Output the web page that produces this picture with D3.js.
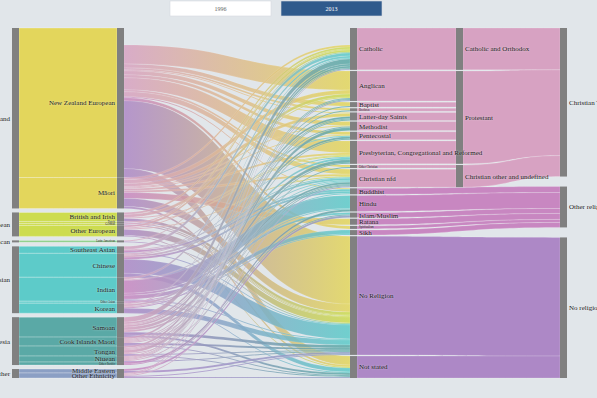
<!DOCTYPE html>
<html>
<head>
<meta charset="utf-8">
<script src="https://cdn.jsdelivr.net/npm/d3@7"></script>
<style>
  html, body { margin: 0; padding: 0; background: #e1e6ea; }
  body { width: 597px; height: 398px; overflow: hidden; }
  text { font-family: "Liberation Serif", "DejaVu Serif", serif; }
  .lbl { fill: #222; text-shadow: 0 0 2px rgba(255,255,255,0.7); }
</style>
</head>
<body>
<div id="chart"></div>
<script>
// level 1 ethnic groups (left column)
const ethnicGroups = ["New Zealand", "European", "Latin American", "Asian", "Polynesia", "Other"];
const groupColors = ["#e3d65c", "#cddc4f", "#8fd08a", "#5dcbc9", "#5aa9a6", "#8b9fc4"];

// level 2 ethnic groups
const ethnicities = ["New Zealand European", "Māori", "British and Irish", "Dutch", "German",
  "Other European", "Latin American", "Southeast Asian", "Chinese", "Indian", "Other Asian",
  "Korean", "Samoan", "Cook Islands Maori", "Tongan", "Niuean", "Other Pacific",
  "Middle Eastern", "Other Ethnicity"];
const ethnicGroupOf = [0, 0, 1, 1, 1, 1, 2, 3, 3, 3, 3, 3, 4, 4, 4, 4, 4, 5, 5];

// religions (middle column)
const religions = ["Catholic", "Anglican", "Baptist", "Brethren", "Latter-day Saints", "Methodist",
  "Pentecostal", "Presbyterian, Congregational and Reformed", "Other Christian", "Christian nfd",
  "Buddhist", "Hindu", "Islam/Muslim", "Ratana", "Spiritualism", "Sikh", "No Religion", "Not stated"];
// -1 = goes straight to the totals column
const religionGroupOf = [0, 1, 1, 1, 1, 1, 1, 1, 2, 2, -1, -1, -1, -1, -1, -1, -1, -1];
const religionTotalOf = [0, 0, 0, 0, 0, 0, 0, 0, 0, 0, 1, 1, 1, 1, 1, 1, 2, 2];

const religionGroups = ["Catholic and Orthodox", "Protestant", "Christian other and undefined"];
const totals = ["Christian Total", "Other religions", "No religion"];
const totalColors = ["#d7a2c2", "#c887c1", "#ad88c6"];

// rows = ethnicities, cols = religions (same order as above)
const flows = [
  [17, 19, 4, 2, 1, 4, 3, 12, 2, 5, 1, 0, 0, 0, 3, 0, 68, 9],
  [2, 4, 0, 0, 3, 1, 1, 2, 0, 2, 0, 0, 0, 6, 0, 0, 8, 2],
  [2, 3, 0, 0, 0, 0, 0, 1, 0, 0, 0, 0, 0, 0, 0, 0, 3, 0],
  [0, 0, 0, 0, 0, 0, 0, 1, 0, 0, 0, 0, 0, 0, 0, 0, 1, 0],
  [1, 0, 0, 0, 0, 0, 0, 0, 0, 0, 0, 0, 0, 0, 0, 0, 1, 0],
  [2, 1, 0, 0, 0, 0, 0, 0, 0, 1, 0, 0, 0, 0, 0, 0, 6, 1],
  [1, 0, 0, 0, 0, 0, 0, 0, 0, 0, 0, 0, 0, 0, 0, 0, 1, 0],
  [3, 0, 0, 0, 0, 0, 0, 0, 0, 1, 2, 0, 0, 0, 0, 0, 1, 0],
  [0, 0, 0, 0, 0, 0, 1, 1, 0, 2, 2, 0, 0, 0, 0, 0, 14, 4],
  [2, 0, 0, 0, 0, 0, 0, 0, 0, 1, 0, 13, 2, 0, 0, 4, 1, 1],
  [0, 0, 0, 0, 0, 0, 0, 0, 0, 0, 0, 1, 0, 0, 0, 1, 0, 0],
  [1, 0, 0, 0, 0, 0, 0, 2, 0, 1, 1, 0, 0, 0, 0, 0, 5, 0],
  [5, 0, 0, 0, 2, 1, 2, 3, 0, 2, 0, 0, 0, 0, 0, 0, 3, 2],
  [2, 0, 0, 0, 1, 0, 1, 1, 0, 1, 0, 0, 0, 0, 0, 0, 2, 1],
  [2, 1, 0, 0, 1, 3, 0, 0, 0, 1, 0, 0, 0, 0, 0, 0, 1, 1],
  [1, 1, 1, 1, 0, 0, 0, 0, 1, 0, 0, 0, 0, 0, 0, 0, 1, 0],
  [0, 0, 0, 0, 0, 0, 0, 0, 0, 0, 0, 2, 1, 0, 0, 0, 0, 0],
  [0, 0, 0, 0, 0, 0, 0, 0, 0, 0, 0, 0, 2, 0, 0, 0, 2, 0],
  [1, 1, 0, 0, 0, 0, 0, 0, 0, 1, 0, 0, 0, 0, 0, 0, 1, 1]
];

const years = ["1996", "2013"];
const activeYear = "2013";

// ---- layout
const W = 597, H = 398;
const yTop = 28, yBottom = 378, nodeW = 7;
const colX = [12, 117, 350, 456, 560];
const groupPad = 4;

const ethVal = flows.map(r => d3.sum(r));
const relVal = religions.map((_, j) => d3.sum(flows, r => r[j]));
const total = d3.sum(ethVal);
const val = d3.scaleLinear().domain([0, total])
  .range([0, yBottom - yTop - groupPad * (ethnicGroups.length - 1)]);

let cy = yTop;
const ethNodes = ethnicities.map((name, i) => {
  if (i > 0 && ethnicGroupOf[i] !== ethnicGroupOf[i - 1]) cy += groupPad;
  const n = {name, group: ethnicGroupOf[i], y0: cy, y1: cy + val(ethVal[i])};
  cy = n.y1;
  return n;
});
const groupNodes = ethnicGroups.map((name, g) => {
  const kids = ethNodes.filter(n => n.group === g);
  return {name, y0: d3.min(kids, n => n.y0), y1: d3.max(kids, n => n.y1)};
});

const relPad = (yBottom - yTop - val(total)) / (religions.length - 1);
cy = yTop;
const relNodes = religions.map((name, j) => {
  const n = {name, value: relVal[j], sub: religionGroupOf[j], cat: religionTotalOf[j],
    y0: cy, y1: cy + val(relVal[j])};
  cy = n.y1 + relPad;
  return n;
});
const subNodes = religionGroups.map((name, s) => {
  const kids = relNodes.filter(n => n.sub === s);
  return {name, value: d3.sum(kids, n => n.value),
    y0: d3.min(kids, n => n.y0), y1: d3.max(kids, n => n.y1)};
});
const totVal = totals.map((_, c) => d3.sum(relNodes.filter(n => n.cat === c), n => n.value));
const totPad = (yBottom - yTop - val(total)) / (totals.length - 1);
cy = yTop;
const totNodes = totals.map((name, c) => {
  const n = {name, y0: cy, y1: cy + val(totVal[c])};
  cy = n.y1 + totPad;
  return n;
});

function band(x0, x1, s0, s1, t0, t1) {
  const xm = (x0 + x1) / 2;
  const p = d3.path();
  p.moveTo(x0, s0);
  p.bezierCurveTo(xm, s0, xm, t0, x1, t0);
  p.lineTo(x1, t1);
  p.bezierCurveTo(xm, t1, xm, s1, x0, s1);
  p.closePath();
  return p.toString();
}

// middle links (ethnicity -> religion)
const outY = ethNodes.map(n => n.y0), inY = relNodes.map(n => n.y0);
const midLinks = [];
flows.forEach((row, i) => row.forEach((v, j) => {
  if (!v) return;
  const w = val(v);
  midLinks.push({i, j, s0: outY[i], s1: outY[i] + w, t0: inY[j], t1: inY[j] + w});
  outY[i] += w; inY[j] += w;
}));

// right side links
const totIn = totNodes.map(n => n.y0);
const rightLinks = [];
relNodes.forEach(n => {
  if (n.sub >= 0) {
    rightLinks.push({x0: colX[2] + nodeW, x1: colX[3], s0: n.y0, s1: n.y1, t0: n.y0, t1: n.y1, c: n.cat});
  } else {
    const w = val(n.value);
    rightLinks.push({x0: colX[2] + nodeW, x1: colX[4], s0: n.y0, s1: n.y1, t0: totIn[n.cat], t1: totIn[n.cat] + w, c: n.cat});
    totIn[n.cat] += w;
  }
});
subNodes.forEach(n => {
  const w = val(n.value);
  rightLinks.push({x0: colX[3] + nodeW, x1: colX[4], s0: n.y0, s1: n.y1, t0: totIn[0], t1: totIn[0] + w, c: 0});
  totIn[0] += w;
});

// ---- draw
const svg = d3.select("#chart").append("svg").attr("width", W).attr("height", H);
svg.append("rect").attr("width", W).attr("height", H).attr("fill", "#e1e6ea");
const defs = svg.append("defs");

svg.append("g").selectAll("path").data(rightLinks).join("path")
  .attr("d", d => band(d.x0, d.x1, d.s0, d.s1, d.t0, d.t1))
  .attr("fill", d => totalColors[d.c])
  .attr("stroke", "rgba(255,255,255,0.35)").attr("stroke-width", 0.5);

svg.append("g").selectAll("path").data(ethNodes).join("path")
  .attr("d", d => band(colX[0] + nodeW, colX[1], d.y0, d.y1, d.y0, d.y1))
  .attr("fill", d => groupColors[d.group])
  .attr("stroke", "rgba(255,255,255,0.45)").attr("stroke-width", 0.6);

// the reference leaves the first band (NZ European -> Catholic) undrawn
const shown = midLinks.filter(l => !(l.i === 0 && l.j === 0));
shown.forEach((l, k) => {
  const g = defs.append("linearGradient").attr("id", "lg" + k)
    .attr("gradientUnits", "userSpaceOnUse")
    .attr("x1", colX[1] + nodeW).attr("x2", colX[2]).attr("y1", 0).attr("y2", 0);
  g.append("stop").attr("offset", "0%").attr("stop-color", totalColors[relNodes[l.j].cat]);
  g.append("stop").attr("offset", "100%").attr("stop-color", groupColors[ethNodes[l.i].group]);
});
svg.append("g").selectAll("path").data(shown).join("path")
  .attr("d", d => band(colX[1] + nodeW, colX[2], d.s0, d.s1, d.t0, d.t1))
  .attr("fill", (d, k) => "url(#lg" + k + ")")
  .attr("fill-opacity", 0.85)
  .attr("stroke", "rgba(255,255,255,0.22)").attr("stroke-width", 0.5);

// node bars
const cols = [groupNodes, ethNodes, relNodes, subNodes, totNodes];
cols.forEach((nodes, c) => {
  svg.append("g").selectAll("rect").data(nodes).join("rect")
    .attr("x", colX[c]).attr("y", d => d.y0)
    .attr("width", nodeW).attr("height", d => Math.max(0.5, d.y1 - d.y0))
    .attr("fill", "#808080");
});

// labels
cols.forEach((nodes, c) => {
  const left = c < 2;
  svg.append("g").selectAll("text").data(nodes).join("text")
    .attr("class", "lbl")
    .attr("x", left ? colX[c] - 2 : colX[c] + nodeW + 2)
    .attr("y", d => (d.y0 + d.y1) / 2)
    .attr("dy", "0.35em")
    .attr("text-anchor", left ? "end" : "start")
    .attr("font-size", d => (c === 0 || d.y1 - d.y0 > 3.5) ? 7 : 3)
    .text(d => d.name);
});

// year buttons
const btn = svg.append("g").selectAll("g").data(years).join("g")
  .attr("transform", (d, i) => `translate(${170 + i * 111},1)`);
btn.append("rect").attr("width", 101).attr("height", 15)
  .attr("fill", d => d === activeYear ? "#2f5a8c" : "#fff")
  .attr("stroke", "#d5dae0").attr("stroke-width", 0.6);
btn.append("text").attr("x", 50.5).attr("y", 7.5).attr("dy", "0.35em")
  .attr("text-anchor", "middle").attr("font-size", 6)
  .attr("fill", d => d === activeYear ? "#fff" : "#666")
  .text(d => d);
</script>
</body>
</html>
